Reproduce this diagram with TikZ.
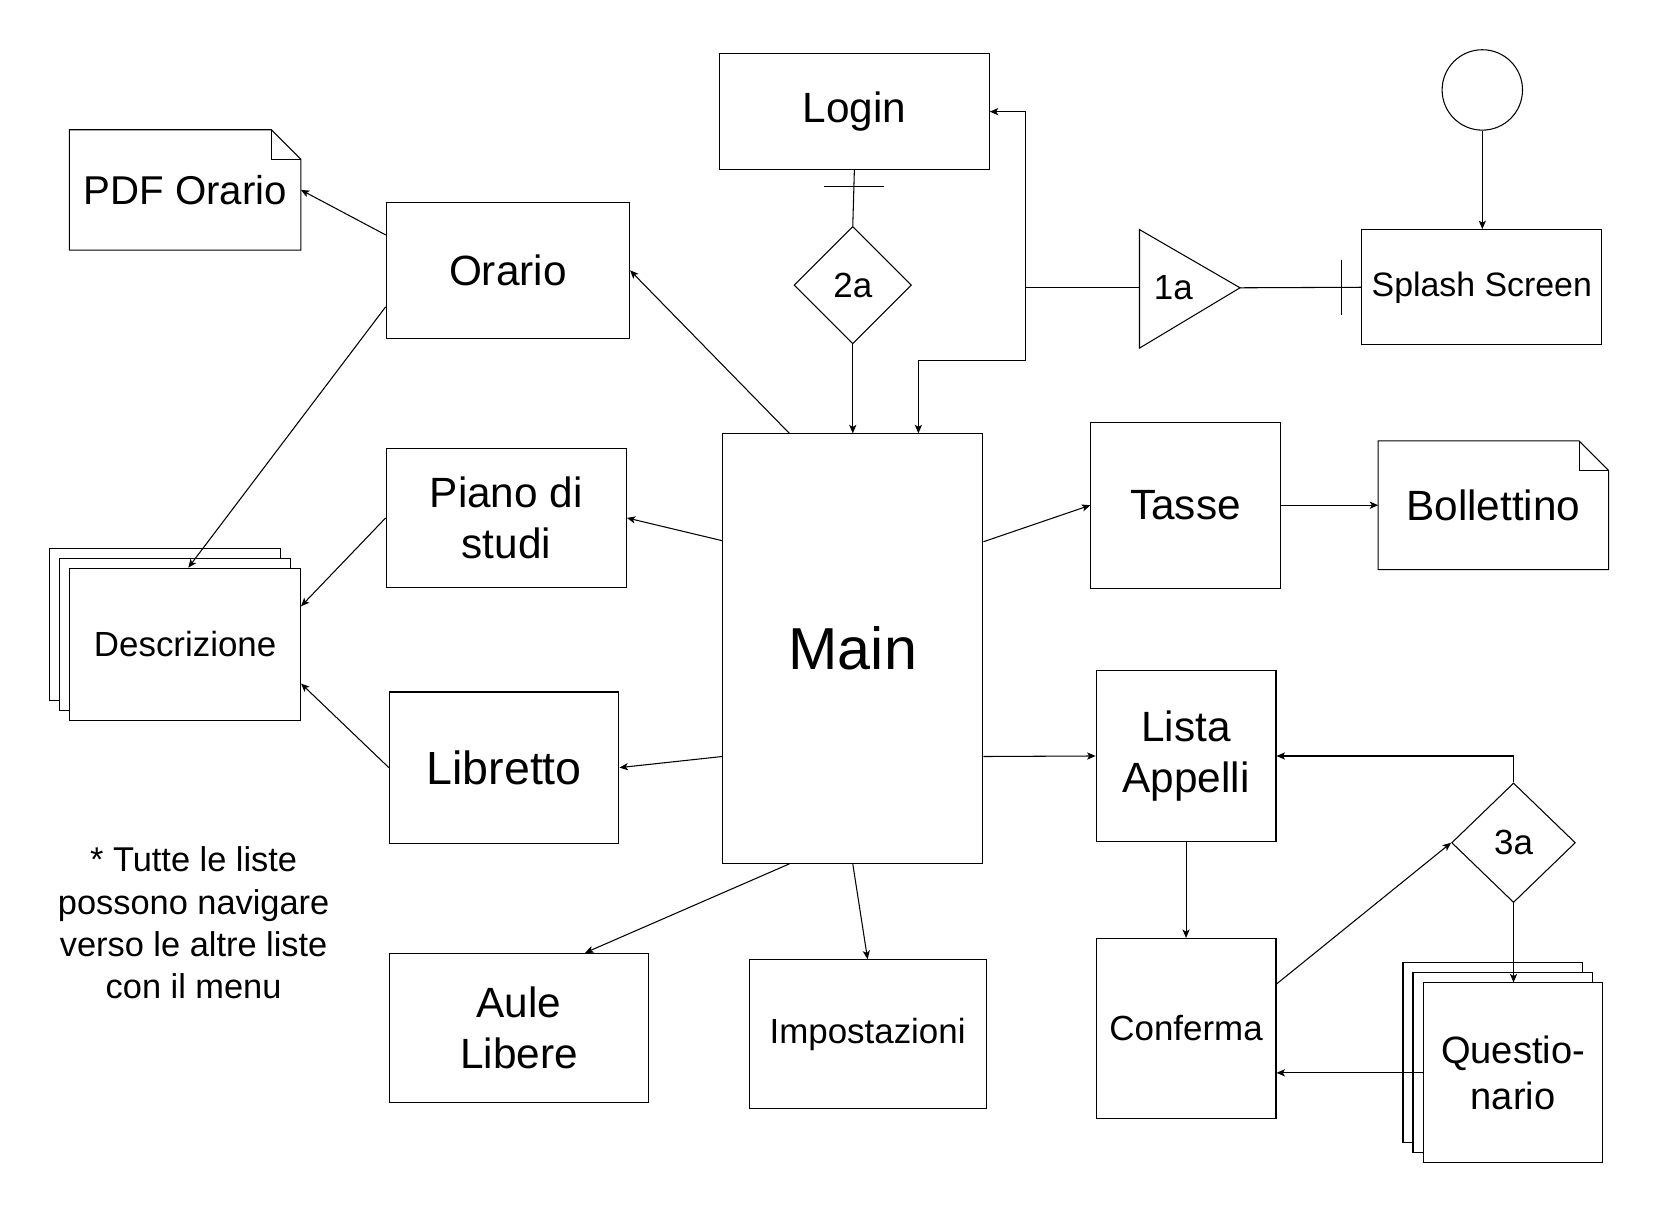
\documentclass[tikz,border=0pt]{standalone}
\usepackage{fontspec}
\setmainfont{Liberation Sans}
\usetikzlibrary{shapes.geometric,arrows.meta,calc}
\begin{document}
\begin{tikzpicture}[x=0.5pt,y=-0.5pt,
  box/.style={draw, line width=0.5pt, inner sep=0pt, align=center, fill=white},
  dia/.style={draw, line width=0.5pt, diamond, aspect=1, inner sep=0pt},
  arr/.style={-{Stealth[length=4pt,width=3.4pt,inset=1pt]}, line width=0.5pt},
  ln/.style={line width=0.5pt},
  big/.style={font=\fontsize{20}{24}\selectfont},
  sml/.style={font=\fontsize{16.5}{20}\selectfont}]
\useasboundingbox (0,0) rectangle (1568,1147.5);

% top area
\node[box, big, minimum width=127.5pt, minimum height=54.5pt] (login) at (807.5,105.5) {Login};
\node[dia, sml, minimum width=55.5pt, minimum height=55.5pt] (d2a) at (806,269.5) {2a};
\node[box, font=\fontsize{28}{32}\selectfont, minimum width=123pt, minimum height=203pt] (main) at (806,613) {Main};
\node[box, font=\fontsize{16}{19}\selectfont, minimum width=113.5pt, minimum height=54.5pt] (splash) at (1400.5,271.5) {Splash Screen};
\node[draw, line width=0.5pt, circle, minimum size=38pt, inner sep=0pt] (circ) at (1401,85) {};
\coordinate (t1aw) at (1077,272);
\coordinate (t1ae) at (1172,272);
\draw[ln] (1077,217) -- (t1ae) -- (1077,329) -- cycle;
\node[sml] (t1a) at (1109,272) {1a};

% left column
\node[box, big, minimum width=115pt, minimum height=64.5pt] (orario) at (480,255.5) {Orario};
\node[minimum width=109pt, minimum height=56.5pt, inner sep=0pt, font=\fontsize{19}{23}\selectfont] (pdf) at (175,179.5) {PDF Orario};
\draw[ln] (pdf.south west) -- (pdf.north west) -- ([xshift=-14pt]pdf.north east) -- ([yshift=-14pt]pdf.north east) -- (pdf.south east) -- cycle;
\draw[ln] ([xshift=-14pt]pdf.north east) |- ([yshift=-14pt]pdf.north east);

\foreach \s in {9.5,4.75}
  \node[box, minimum width=109pt, minimum height=72pt, xshift=-\s pt, yshift=\s pt] at (175,609) {};
\node[box, sml, minimum width=109pt, minimum height=72pt] (desc) at (175,609) {Descrizione};

\node[box, big, minimum width=113.5pt, minimum height=65.5pt] (piano) at (478.5,489.5) {Piano di\\studi};
\node[box, font=\fontsize{22}{26}\selectfont, minimum width=108.5pt, minimum height=71.5pt] (libretto) at (476.5,725.5) {Libretto};
\node[box, big, minimum width=122.5pt, minimum height=70.5pt] (aule) at (490.5,971.5) {Aule\\Libere};
\node[box, sml, minimum width=112pt, minimum height=70.5pt] (imp) at (820,977.5) {Impostazioni};

% right column
\node[box, big, minimum width=89.5pt, minimum height=78.5pt] (tasse) at (1120.5,477.5) {Tasse};
\node[minimum width=108.5pt, minimum height=60.5pt, inner sep=0pt, big] (boll) at (1411.5,477.5) {Bollettino};
\draw[ln] (boll.south west) -- (boll.north west) -- ([xshift=-14pt]boll.north east) -- ([yshift=-14pt]boll.north east) -- (boll.south east) -- cycle;
\draw[ln] ([xshift=-14pt]boll.north east) |- ([yshift=-14pt]boll.north east);

\node[box, big, minimum width=85pt, minimum height=80.5pt] (lista) at (1121,714.5) {Lista\\Appelli};
\node[box, sml, minimum width=85pt, minimum height=85pt] (conf) at (1121,972) {Conferma};
\node[dia, sml, minimum width=58.5pt, minimum height=56.5pt] (d3a) at (1430.5,796.5) {3a};
\foreach \s in {9.5,4.75}
  \node[box, minimum width=85pt, minimum height=85pt, xshift=-\s pt, yshift=\s pt] at (1430,1014) {};
\node[box, font=\fontsize{18}{21.5}\selectfont, minimum width=85pt, minimum height=85pt] (quest) at (1430,1014) {Questio-\\nario};

\node[align=center, font=\fontsize{16.25}{20}\selectfont] (note) at (183,872.5) {* Tutte le liste\\possono navigare\\verso le altre liste\\con il menu};

% connectors
\draw[ln] (login.south) -- (d2a.north);
\draw[ln] ($(login.south)!0.296!(d2a.north)$) ++(-14.25pt,0) -- ++(28.5pt,0);
\draw[arr] (d2a.south) -- (main.north);
\draw[ln] (splash.west) -- (t1ae);
\draw[ln] ($(splash.west)!0.165!(t1ae)$) ++(0,-13pt) -- ++(0,26pt);
\draw[arr] (t1aw) -| ($(login.east)+(17pt,0)$) -- (login.east);
\draw[arr] (t1aw) -- ++(-54pt,0) |- ([xshift=31pt,yshift=34.5pt]main.north) -- ([xshift=31pt]main.north);
\draw[arr] (circ.south) -- (circ.south |- splash.north);

\draw[arr] ([yshift=16.75pt]orario.west) -- (pdf.east);
\draw[arr] ([xshift=-30pt]main.north) -- (orario.east);
\draw[arr] ([yshift=-17.25pt]orario.west) -- ([xshift=1.5pt]desc.north);
\draw[arr] ([yshift=51pt]main.west) -- (piano.east);
\draw[arr] (piano.west) -- ([yshift=18pt]desc.east);
\draw[arr] ([yshift=-51pt]main.west) -- (libretto.east);
\draw[arr] (libretto.west) -- ([yshift=-18.5pt]desc.east);
\draw[arr] ([xshift=-30pt]main.south) -- ([xshift=31.25pt]aule.north);
\draw[arr] (main.south) -- (imp.north);

\draw[arr] ([yshift=50.5pt]main.east) -- (tasse.west);
\draw[arr] (tasse.east) -- (boll.west);
\draw[arr] ([yshift=-51pt]main.east) -- (lista.west);
\draw[arr] (lista.south) -- (conf.north);
\draw[arr] ([yshift=21pt]conf.east) -- (d3a.west);
\draw[arr] (d3a.north) |- (lista.east);
\draw[arr] (d3a.south) -- (d3a.south |- quest.north);
\draw[arr] (quest.west) -- (quest.west -| conf.east);
\end{tikzpicture}
\end{document}
